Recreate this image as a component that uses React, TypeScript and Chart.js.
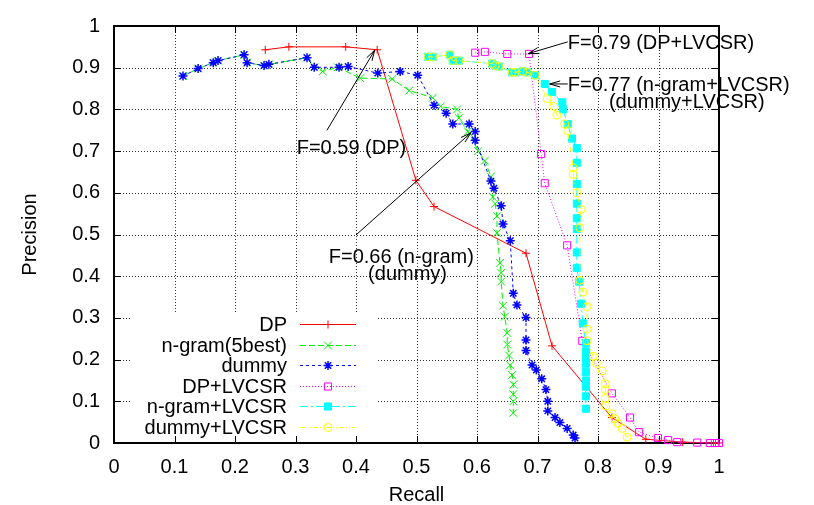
import React, { useEffect, useRef } from 'react';
import { Chart, registerables } from 'chart.js';
import { drawPoint } from 'chart.js/helpers';

Chart.register(...registerables);

const FONT = "'Liberation Sans', Arial, Helvetica, sans-serif";

// ---------- data ----------
const tickValues = [0, 0.1, 0.2, 0.3, 0.4, 0.5, 0.6, 0.7, 0.8, 0.9, 1];
const tickLabels = ['0', '0.1', '0.2', '0.3', '0.4', '0.5', '0.6', '0.7', '0.8', '0.9', '1'];

const seriesNames = ['DP', 'n-gram(5best)', 'dummy', 'DP+LVCSR', 'n-gram+LVCSR', 'dummy+LVCSR'];

const dpRecall = [0.25, 0.289, 0.383, 0.435, 0.499, 0.529, 0.681, 0.724, 0.823, 0.879, 0.94, 1.0];
const dpPrecision = [0.943, 0.95, 0.95, 0.943, 0.63, 0.567, 0.455, 0.233, 0.061, 0.009, 0.002, 0.0];

const ngramRecall = [0.114, 0.139, 0.164, 0.172, 0.215, 0.22, 0.248, 0.256, 0.319, 0.331, 0.345, 0.37, 0.407,
  0.46, 0.488, 0.527, 0.54, 0.567, 0.57, 0.585, 0.588, 0.602, 0.613, 0.623, 0.626, 0.63, 0.633, 0.633, 0.638,
  0.64, 0.64, 0.643, 0.646, 0.65, 0.65, 0.653, 0.655, 0.658, 0.66, 0.66, 0.66, 0.66];
const ngramPrecision = [0.88, 0.898, 0.912, 0.917, 0.931, 0.912, 0.905, 0.908, 0.924, 0.901, 0.891, 0.901, 0.875,
  0.873, 0.845, 0.828, 0.807, 0.8, 0.779, 0.747, 0.742, 0.7, 0.677, 0.639, 0.59, 0.574, 0.544, 0.504, 0.432,
  0.408, 0.387, 0.329, 0.303, 0.264, 0.236, 0.21, 0.187, 0.163, 0.14, 0.117, 0.1, 0.072];

const dummyRecall = [0.114, 0.139, 0.164, 0.172, 0.215, 0.22, 0.248, 0.256, 0.319, 0.331, 0.372, 0.387, 0.436,
  0.473, 0.502, 0.529, 0.549, 0.56, 0.587, 0.597, 0.597, 0.623, 0.628, 0.64, 0.643, 0.655, 0.66, 0.666, 0.681,
  0.681, 0.681, 0.691, 0.698, 0.707, 0.714, 0.717, 0.717, 0.729, 0.737, 0.749, 0.759, 0.762];
const dummyPrecision = [0.88, 0.898, 0.912, 0.917, 0.931, 0.912, 0.905, 0.908, 0.924, 0.901, 0.901, 0.903, 0.887,
  0.891, 0.882, 0.81, 0.791, 0.765, 0.765, 0.747, 0.726, 0.628, 0.611, 0.569, 0.525, 0.485, 0.359, 0.331, 0.301,
  0.247, 0.222, 0.187, 0.175, 0.154, 0.128, 0.1, 0.077, 0.061, 0.049, 0.035, 0.019, 0.012];

const dpLvcsrRecall = [0.597, 0.613, 0.65, 0.686, 0.706, 0.712, 0.749, 0.774, 0.823, 0.853, 0.868, 0.899, 0.916,
  0.931, 0.964, 0.985, 0.993, 1.0];
const dpLvcsrPrecision = [0.936, 0.938, 0.933, 0.933, 0.693, 0.623, 0.474, 0.245, 0.119, 0.061, 0.026, 0.012, 0.007,
  0.002, 0.001, 0.0, 0.0, 0.0];

const ngramLvcsrRecall = [0.519, 0.527, 0.555, 0.56, 0.57, 0.625, 0.63, 0.636, 0.658, 0.663, 0.676, 0.683, 0.696,
  0.712, 0.724, 0.741, 0.742, 0.75, 0.757, 0.765, 0.765, 0.765, 0.765, 0.765, 0.765, 0.765, 0.765, 0.769, 0.772,
  0.775, 0.78, 0.78, 0.78, 0.78, 0.78, 0.78, 0.78, 0.78, 0.78];
const ngramLvcsrPrecision = [0.926, 0.926, 0.931, 0.917, 0.917, 0.91, 0.905, 0.903, 0.889, 0.889, 0.891, 0.889, 0.882,
  0.861, 0.842, 0.817, 0.8, 0.765, 0.73, 0.707, 0.672, 0.621, 0.574, 0.539, 0.513, 0.457, 0.42, 0.387, 0.334,
  0.287, 0.24, 0.22, 0.205, 0.19, 0.17, 0.15, 0.135, 0.112, 0.082];

const dummyLvcsrRecall = [0.519, 0.527, 0.555, 0.56, 0.57, 0.625, 0.63, 0.636, 0.658, 0.663, 0.676, 0.683, 0.696,
  0.716, 0.727, 0.732, 0.745, 0.75, 0.759, 0.759, 0.765, 0.772, 0.77, 0.77, 0.775, 0.782, 0.782, 0.782, 0.792,
  0.797, 0.807, 0.812, 0.812, 0.812, 0.813, 0.823, 0.828, 0.833, 0.84, 0.848];
const dummyLvcsrPrecision = [0.926, 0.926, 0.931, 0.917, 0.917, 0.91, 0.905, 0.903, 0.889, 0.889, 0.891, 0.889, 0.882,
  0.826, 0.807, 0.786, 0.765, 0.749, 0.66, 0.644, 0.6, 0.56, 0.516, 0.39, 0.362, 0.327, 0.273, 0.245, 0.208,
  0.191, 0.173, 0.142, 0.128, 0.107, 0.089, 0.07, 0.058, 0.047, 0.035, 0.014];

const annotationTexts = ['F=0.59 (DP)', 'F=0.66 (n-gram)', '(dummy)', 'F=0.79 (DP+LVCSR)', 'F=0.77 (n-gram+LVCSR)', '(dummy+LVCSR)'];
const annotationAt = [[0.302, 0.709], [0.355, 0.448], [0.42, 0.408], [0.75, 0.961], [0.75, 0.861], [0.818, 0.819]];
const arrowsFromTo = [[0.352, 0.75, 0.431, 0.942], [0.4, 0.499, 0.59, 0.744], [0.75, 0.962, 0.685, 0.934], [0.75, 0.861, 0.72, 0.861]];

// ---------- styles ----------
const colors = ['#ff0000', '#00ee00', '#0000ff', '#ff00ff', '#00ffff', '#ffff00'];
const dashes = [[], [6, 3], [3, 3], [1, 2], [8, 3, 2, 3], [5, 2, 1, 2, 1, 2]];
const pointStyles = ['cross', 'crossRot', 'star', 'rect', 'rect', 'circle'];
const pointRadii = [4, 5.5, 4.5, 5, 5, 4];
const pointBorders = [1, 1, 1.5, 1, 1, 1];
const pointFills = ['transparent', 'transparent', 'transparent', 'transparent', '#00ffff', 'transparent'];

const recalls = [dpRecall, ngramRecall, dummyRecall, dpLvcsrRecall, ngramLvcsrRecall, dummyLvcsrRecall];
const precisions = [dpPrecision, ngramPrecision, dummyPrecision, dpLvcsrPrecision, ngramLvcsrPrecision, dummyLvcsrPrecision];

function drawArrow(ctx: CanvasRenderingContext2D, x1: number, y1: number, x2: number, y2: number) {
  const ang = Math.atan2(y2 - y1, x2 - x1);
  const len = 11;
  const spread = (16 * Math.PI) / 180;
  ctx.beginPath();
  ctx.moveTo(x1, y1);
  ctx.lineTo(x2, y2);
  ctx.moveTo(x2 - len * Math.cos(ang - spread), y2 - len * Math.sin(ang - spread));
  ctx.lineTo(x2, y2);
  ctx.lineTo(x2 - len * Math.cos(ang + spread), y2 - len * Math.sin(ang + spread));
  ctx.stroke();
}

const framePlugin = {
  id: 'gnuplotFrame',
  beforeDatasetsDraw(chart: any) {
    const { ctx, chartArea, scales } = chart;
    const { left, right, top, bottom } = chartArea;
    const xs = scales.x;
    const ys = scales.y;
    ctx.save();
    // dotted grid
    ctx.strokeStyle = 'rgba(0,0,0,0.8)';
    ctx.lineWidth = 1;
    ctx.setLineDash([1, 2]);
    tickValues.forEach((v) => {
      if (v <= 0 || v >= 1) return;
      const px = Math.round(xs.getPixelForValue(v)) + 0.5;
      ctx.beginPath();
      ctx.moveTo(px, top);
      ctx.lineTo(px, bottom);
      ctx.stroke();
      const py = Math.round(ys.getPixelForValue(v)) + 0.5;
      ctx.beginPath();
      ctx.moveTo(left, py);
      ctx.lineTo(right, py);
      ctx.stroke();
    });
    ctx.setLineDash([]);
    // opaque key box
    ctx.fillStyle = '#ffffff';
    ctx.fillRect(left + 16, 312, 248, bottom - 2 - 312);
    // inward ticks
    ctx.strokeStyle = '#000';
    ctx.lineWidth = 1;
    tickValues.forEach((v) => {
      const px = Math.round(xs.getPixelForValue(v)) + 0.5;
      ctx.beginPath();
      ctx.moveTo(px, bottom);
      ctx.lineTo(px, bottom - 7);
      ctx.moveTo(px, top);
      ctx.lineTo(px, top + 7);
      ctx.stroke();
      const py = Math.round(ys.getPixelForValue(v)) + 0.5;
      ctx.beginPath();
      ctx.moveTo(left, py);
      ctx.lineTo(left + 7, py);
      ctx.moveTo(right, py);
      ctx.lineTo(right - 7, py);
      ctx.stroke();
    });
    // border
    ctx.lineWidth = 2;
    ctx.strokeRect(left, top, right - left, bottom - top);
    ctx.restore();
  },
  afterDatasetsDraw(chart: any) {
    const { ctx, chartArea, scales } = chart;
    const { left } = chartArea;
    const xs = scales.x;
    const ys = scales.y;
    ctx.save();
    // key
    ctx.font = `20px ${FONT}`;
    ctx.textAlign = 'right';
    ctx.textBaseline = 'alphabetic';
    seriesNames.forEach((name, i) => {
      const y = 324 + i * 20.6;
      ctx.fillStyle = '#000';
      ctx.fillText(name, left + 173, y + 7);
      ctx.strokeStyle = colors[i];
      ctx.lineWidth = 1;
      ctx.setLineDash(dashes[i]);
      ctx.beginPath();
      ctx.moveTo(left + 186, Math.round(y) + 0.5);
      ctx.lineTo(left + 242, Math.round(y) + 0.5);
      ctx.stroke();
      ctx.setLineDash([]);
      ctx.fillStyle = pointFills[i];
      ctx.lineWidth = pointBorders[i];
      drawPoint(ctx, { pointStyle: pointStyles[i], radius: pointRadii[i], borderWidth: pointBorders[i], rotation: 0 } as any, left + 214, Math.round(y) + 0.5);
    });
    // annotations
    ctx.fillStyle = '#000';
    ctx.textAlign = 'left';
    annotationTexts.forEach((t, i) => {
      const [ax, ay] = annotationAt[i];
      ctx.fillText(t, xs.getPixelForValue(ax), ys.getPixelForValue(ay) + 7);
    });
    ctx.strokeStyle = '#000';
    ctx.lineWidth = 1;
    arrowsFromTo.forEach(([x1, y1, x2, y2]) => {
      drawArrow(ctx, xs.getPixelForValue(x1), ys.getPixelForValue(y1), xs.getPixelForValue(x2), ys.getPixelForValue(y2));
    });
    ctx.restore();
  },
};

export default function App() {
  const ref = useRef<HTMLCanvasElement>(null);
  useEffect(() => {
    const canvas = ref.current;
    if (!canvas) return;
    const datasets = seriesNames.map((name, i) => ({
      label: name,
      data: recalls[i].map((r, k) => ({ x: r, y: precisions[i][k] })),
      showLine: true,
      borderColor: colors[i],
      backgroundColor: pointFills[i],
      borderWidth: 1,
      borderDash: dashes[i],
      pointStyle: pointStyles[i],
      pointRadius: pointRadii[i],
      pointBorderColor: colors[i],
      pointBackgroundColor: pointFills[i],
      pointBorderWidth: pointBorders[i],
      tension: 0,
      clip: false,
      order: 5 - i,
    }));
    const axisFont = { family: FONT, size: 20 };
    const chart = new Chart(canvas, {
      type: 'scatter',
      data: { datasets } as any,
      options: {
        animation: false,
        responsive: false,
        devicePixelRatio: 1,
        layout: { padding: { top: 14, right: 95, left: 0, bottom: 0 } },
        plugins: { legend: { display: false }, tooltip: { enabled: false } },
        scales: {
          x: {
            type: 'linear',
            min: 0,
            max: 1,
            grid: { display: false, drawTicks: false },
            border: { display: false },
            afterBuildTicks: (s: any) => {
              s.ticks = tickValues.map((v) => ({ value: v }));
            },
            afterFit: (s: any) => {
              s.height = 62;
            },
            ticks: {
              padding: 12,
              color: '#000',
              font: axisFont,
              maxRotation: 0,
              autoSkip: false,
              callback: (_v: any, i: number) => tickLabels[i],
            },
            title: { display: true, text: 'Recall', color: '#000', font: { family: FONT, size: 20, lineHeight: 1 }, padding: { top: 0, bottom: 0 } },
          },
          y: {
            type: 'linear',
            min: 0,
            max: 1,
            grid: { display: false, drawTicks: false },
            border: { display: false },
            afterBuildTicks: (s: any) => {
              s.ticks = tickValues.map((v) => ({ value: v }));
            },
            afterFit: (s: any) => {
              s.width = 114;
            },
            ticks: {
              padding: 14,
              color: '#000',
              font: axisFont,
              autoSkip: false,
              callback: (_v: any, i: number) => tickLabels[i],
            },
            title: { display: true, text: 'Precision', color: '#000', font: { family: FONT, size: 20, lineHeight: 1 }, padding: { top: 20, bottom: 0 } },
          },
        },
      } as any,
      plugins: [framePlugin],
    });
    return () => chart.destroy();
  }, []);
  return (
    <div style={{ position: 'absolute', left: 0, top: 0, width: 814, height: 505, background: '#fff' }}>
      <canvas ref={ref} width={814} height={505} style={{ display: 'block', width: 814, height: 505 }} />
    </div>
  );
}
